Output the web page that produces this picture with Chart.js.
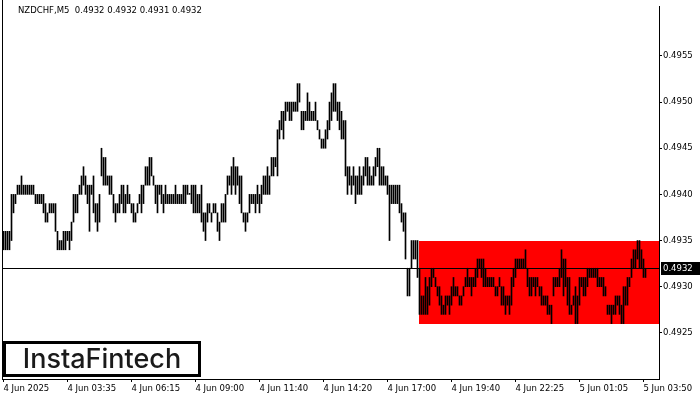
<!DOCTYPE html>
<html>
<head>
<meta charset="utf-8">
<script src="https://cdn.jsdelivr.net/npm/chart.js@4/dist/chart.umd.min.js"></script>
<style>
html, body { margin: 0; padding: 0; background: #fff; }
#wrap { position: relative; width: 700px; height: 400px; }
</style>
</head>
<body>
<div id="wrap"><canvas id="myChart" width="700" height="400"></canvas></div>
<script>
// NZDCHF M5 bars, prices in 1/10000 (4936 = 0.4936)
const highs = [
  4936,4936,4936,4936,4940,4940,4940,4941,4941,4942,
  4941,4941,4941,4941,4941,4941,4940,4940,4940,4940,
  4940,4939,4938,4939,4939,4939,4939,4936,4935,4935,
  4936,4936,4936,4936,4937,4940,4940,4940,4941,4942,
  4943,4942,4941,4941,4941,4942,4939,4939,4940,4945,
  4944,4944,4942,4942,4942,4940,4939,4939,4940,4941,
  4941,4940,4941,4940,4939,4939,4938,4939,4940,4941,
  4941,4943,4943,4944,4944,4942,4941,4941,4941,4941,
  4940,4941,4940,4940,4940,4940,4941,4940,4940,4940,
  4941,4941,4941,4940,4941,4941,4941,4940,4940,4941,
  4938,4938,4939,4939,4938,4939,4939,4938,4937,4939,
  4939,4940,4942,4942,4943,4944,4943,4943,4942,4942,
  4938,4938,4938,4940,4940,4940,4940,4941,4940,4941,
  4942,4942,4943,4942,4944,4944,4944,4947,4948,4949,
  4949,4950,4950,4950,4950,4950,4950,4952,4952,4949,
  4949,4949,4951,4950,4949,4949,4950,4948,4947,4946,
  4946,4947,4948,4950,4951,4952,4952,4950,4950,4949,
  4948,4948,4943,4943,4942,4943,4942,4942,4943,4942,
  4943,4944,4944,4943,4942,4943,4944,4945,4945,4943,
  4943,4942,4942,4941,4941,4941,4941,4941,4941,4939,
  4938,4938,4932,4932,4935,4935,4935,4935,4932,4929,
  4929,4931,4930,4931,4932,4932,4931,4930,4930,4929,
  4928,4929,4929,4929,4930,4931,4930,4930,4929,4929,
  4930,4931,4932,4931,4931,4931,4932,4933,4933,4933,
  4933,4932,4931,4931,4931,4931,4930,4930,4931,4930,
  4930,4929,4929,4929,4931,4932,4933,4933,4933,4933,
  4933,4934,4932,4931,4931,4931,4931,4931,4930,4930,
  4929,4929,4929,4928,4928,4931,4931,4931,4932,4934,
  4933,4933,4931,4931,4928,4929,4930,4929,4931,4931,
  4931,4931,4932,4932,4932,4932,4932,4932,4931,4931,
  4931,4930,4928,4928,4928,4928,4929,4929,4929,4928,
  4930,4930,4931,4931,4933,4934,4934,4935,4935,4934,
  4933,4932
];
const lows = [
  4934,4934,4934,4934,4935,4938,4939,4940,4940,4940,
  4940,4940,4940,4940,4940,4940,4939,4939,4939,4939,
  4938,4937,4937,4938,4938,4938,4936,4934,4934,4934,
  4934,4934,4935,4934,4935,4937,4938,4938,4940,4940,
  4941,4940,4939,4936,4940,4938,4937,4936,4937,4942,
  4941,4941,4941,4940,4940,4938,4937,4938,4938,4939,
  4938,4938,4939,4939,4938,4937,4937,4938,4939,4938,
  4939,4941,4941,4941,4942,4941,4939,4938,4940,4939,
  4938,4939,4939,4939,4939,4939,4939,4939,4939,4939,
  4939,4939,4940,4940,4939,4938,4938,4938,4938,4937,
  4936,4935,4937,4938,4937,4938,4938,4936,4935,4937,
  4937,4937,4940,4941,4940,4941,4940,4941,4939,4938,
  4937,4936,4937,4938,4939,4939,4938,4939,4938,4939,
  4940,4940,4940,4940,4942,4942,4943,4942,4946,4947,
  4946,4948,4949,4948,4948,4949,4949,4949,4950,4947,
  4947,4948,4948,4948,4948,4948,4948,4947,4946,4945,
  4945,4945,4946,4947,4948,4949,4949,4948,4947,4946,
  4946,4942,4940,4941,4940,4941,4939,4940,4940,4940,
  4941,4942,4941,4941,4941,4941,4942,4943,4941,4941,
  4941,4941,4940,4935,4939,4939,4939,4939,4938,4937,
  4936,4933,4929,4929,4932,4933,4933,4931,4927,4927,
  4927,4927,4927,4928,4930,4931,4930,4929,4928,4927,
  4927,4927,4928,4927,4928,4929,4929,4929,4928,4928,
  4929,4930,4930,4930,4929,4930,4930,4931,4932,4931,
  4930,4930,4930,4930,4930,4930,4929,4929,4930,4928,
  4928,4927,4928,4927,4928,4930,4931,4932,4932,4932,
  4932,4932,4930,4929,4929,4930,4929,4930,4929,4928,
  4928,4928,4927,4927,4926,4929,4930,4930,4930,4931,
  4929,4930,4928,4927,4927,4928,4926,4926,4928,4930,
  4929,4929,4930,4931,4931,4931,4931,4930,4930,4930,
  4929,4929,4927,4927,4926,4927,4927,4928,4927,4926,
  4926,4928,4928,4930,4931,4932,4932,4933,4932,4932,
  4931,4931
];

const timeLabels = ['4 Jun 2025', '4 Jun 03:35', '4 Jun 06:15', '4 Jun 09:00', '4 Jun 11:40', '4 Jun 14:20',
                    '4 Jun 17:00', '4 Jun 19:40', '4 Jun 22:25', '5 Jun 01:05', '5 Jun 03:50'];
const priceTicks = [0.4925, 0.4930, 0.4935, 0.4940, 0.4945, 0.4950, 0.4955];

const lastPrice = 0.4932;
const title = 'NZDCHF,M5  0.4932 0.4932 0.4931 0.4932';
// rectangle pattern
const zoneFrom = 208;
const zoneTop = 0.4935;
const zoneBottom = 0.4926;

const FONT = 'DejaVu Sans';
const barsPerLabel = 32;

const zonePlugin = {
  id: 'zone',
  beforeDatasetsDraw(chart) {
    const ctx = chart.ctx, xs = chart.scales.x, ys = chart.scales.y, area = chart.chartArea;
    const x0 = Math.round(xs.getPixelForValue(zoneFrom) - 0.5);
    const y0 = Math.round(ys.getPixelForValue(zoneTop));
    const y1 = Math.round(ys.getPixelForValue(zoneBottom));
    ctx.save();
    ctx.fillStyle = '#ff0000';
    ctx.fillRect(x0, y0, area.right - x0, y1 - y0);
    ctx.restore();
  }
};

const overlayPlugin = {
  id: 'overlay',
  afterDraw(chart) {
    const ctx = chart.ctx, ys = chart.scales.y, area = chart.chartArea;
    ctx.save();
    ctx.fillStyle = '#000';
    // left frame
    ctx.fillRect(area.left, 0, 1, area.bottom);
    // bid line
    const yb = Math.floor(ys.getPixelForValue(lastPrice));
    ctx.fillRect(area.left, yb, area.right - area.left, 1);
    // price label
    ctx.fillRect(area.right + 2, yb - 6, 39, 13);
    ctx.fillStyle = '#fff';
    ctx.font = '8.5px "' + FONT + '"';
    ctx.textBaseline = 'middle';
    ctx.textAlign = 'left';
    ctx.fillText(lastPrice.toFixed(4), area.right + 4, yb + 0.5);
    // title
    ctx.fillStyle = '#000';
    ctx.fillText(title, 18, 11);
    // logo
    ctx.fillStyle = '#fff';
    ctx.fillRect(4, 342, 196, 34);
    ctx.lineWidth = 3;
    ctx.strokeStyle = '#000';
    ctx.strokeRect(4.5, 342.5, 195, 33);
    ctx.fillStyle = '#1a1a1a';
    ctx.font = '500 27px Inter';
    ctx.textAlign = 'center';
    ctx.fillText('InstaFintech', 102, 360);
    ctx.restore();
  }
};

const ctx = document.getElementById('myChart').getContext('2d');
const myChart = new Chart(ctx, {
  type: 'bar',
  data: {
    datasets: [{
      data: highs.map((h, i) => ({ x: i, y: [lows[i] / 10000, h / 10000] })),
      backgroundColor: '#000',
      borderWidth: 0,
      barThickness: 1,
      minBarLength: 1
    }]
  },
  options: {
    responsive: false,
    animation: false,
    devicePixelRatio: 1,
    layout: { padding: { left: 2, top: 0, right: 0, bottom: 0 } },
    plugins: { legend: { display: false }, tooltip: { enabled: false } },
    scales: {
      x: {
        type: 'linear',
        offset: false,
        min: -0.75,
        max: 327.75,
        grid: { offset: false, drawOnChartArea: false, drawTicks: true, tickLength: 3, color: '#000' },
        border: { display: true, color: '#000' },
        ticks: {
          align: 'start',
          autoSkip: false,
          maxRotation: 0,
          padding: 2,
          color: '#000',
          font: { family: FONT, size: 8.5 },
          callback: (v, i) => timeLabels[i]
        },
        afterBuildTicks: s => { s.ticks = timeLabels.map((t, k) => ({ value: k * barsPerLabel })); },
        afterFit: s => { s.height = 21; }
      },
      y: {
        position: 'right',
        min: 0.49200,
        max: 0.49604,
        beginAtZero: false,
        grid: { drawOnChartArea: false, drawTicks: true, tickLength: 3, color: '#000' },
        border: { display: true, color: '#000' },
        ticks: {
          padding: 1,
          color: '#000',
          font: { family: FONT, size: 8.5 },
          callback: v => v.toFixed(4)
        },
        afterBuildTicks: s => { s.ticks = priceTicks.map(v => ({ value: v })); },
        afterFit: s => { s.width = 41; }
      }
    }
  },
  plugins: [zonePlugin, overlayPlugin]
});
</script>
</body>
</html>
